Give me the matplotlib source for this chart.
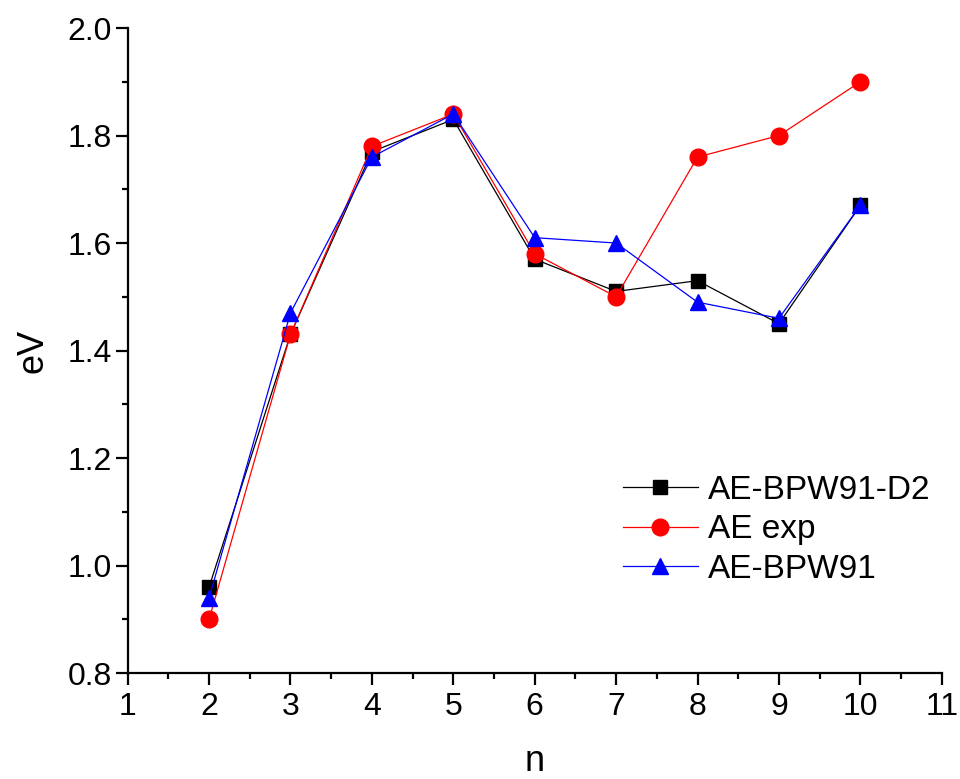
import matplotlib
matplotlib.use("Agg")
import matplotlib.pyplot as plt
from matplotlib.ticker import MultipleLocator

plt.rcParams['font.family'] = ['Liberation Sans', 'DejaVu Sans']

n = [2, 3, 4, 5, 6, 7, 8, 9, 10]
ae_d2 = [0.96, 1.43, 1.77, 1.83, 1.57, 1.51, 1.53, 1.45, 1.67]
ae_exp = [0.90, 1.43, 1.78, 1.84, 1.58, 1.50, 1.76, 1.80, 1.90]
ae_bpw = [0.94, 1.47, 1.76, 1.84, 1.61, 1.60, 1.49, 1.46, 1.67]

fig = plt.figure(figsize=(9.6, 7.79), dpi=100)
ax = fig.add_axes([0.133, 0.136, 0.848, 0.828])

ax.plot(n, ae_d2, color='black', lw=0.9, marker='s', ms=10.5, label='AE-BPW91-D2')
ax.plot(n, ae_exp, color='red', lw=0.9, marker='o', ms=12, label='AE exp')
ax.plot(n, ae_bpw, color='blue', lw=0.9, marker='^', ms=12, label='AE-BPW91')

ax.set_xlim(1, 11)
ax.set_ylim(0.8, 2.0)
ax.xaxis.set_major_locator(MultipleLocator(1))
ax.xaxis.set_minor_locator(MultipleLocator(0.5))
ax.yaxis.set_major_locator(MultipleLocator(0.2))
ax.yaxis.set_minor_locator(MultipleLocator(0.1))
ax.yaxis.set_major_formatter(plt.FormatStrFormatter('%.1f'))

for s in ['top', 'right']:
    ax.spines[s].set_visible(False)
for s in ['left', 'bottom']:
    ax.spines[s].set_linewidth(1.6)
ax.tick_params(which='major', direction='out', length=8.5, width=1.6, labelsize=23)
ax.tick_params(axis='x', which='major', pad=5)
ax.tick_params(axis='y', which='major', pad=3)
ax.tick_params(which='minor', direction='out', length=4.5, width=1.6)

ax.set_xlabel('n', fontsize=26, labelpad=16)
ax.set_ylabel('eV', fontsize=26, labelpad=12)

ax.legend(loc='center left', bbox_to_anchor=(0.608, 0.222), frameon=False, fontsize=24,
          handlelength=2.25, handletextpad=0.3, labelspacing=0.25, borderpad=0,
          borderaxespad=0)

fig.savefig('out.png', dpi=100)
